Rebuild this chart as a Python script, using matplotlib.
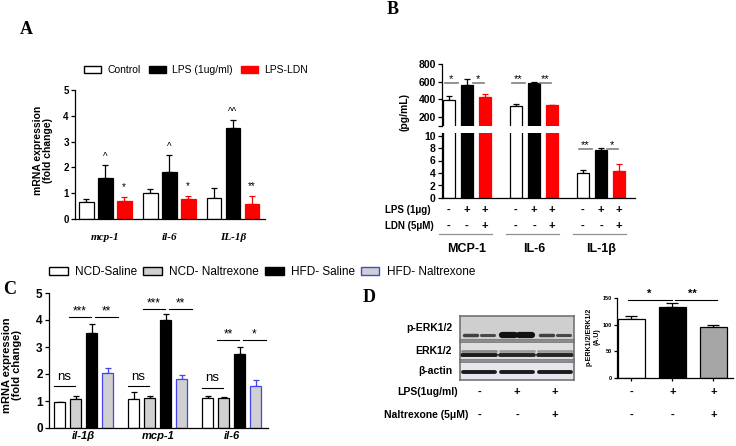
import matplotlib
matplotlib.use('Agg')
import matplotlib.pyplot as plt
import numpy as np
from matplotlib.patches import Patch
from matplotlib.transforms import blended_transform_factory

plt.rcParams['font.family'] = ['Liberation Sans', 'DejaVu Sans']
plt.rcParams['font.weight'] = 'bold'
plt.rcParams['axes.linewidth'] = 0.9

W, H = 736, 446

# ---- panel A: mRNA after LPS / LPS-LDN
a_genes = ['mcp-1', 'il-6', 'IL-1β']
a_series = ['Control', 'LPS (1ug/ml)', 'LPS-LDN']
a_ctrl = [0.66, 1.02, 0.83]
a_lps = [1.58, 1.83, 3.51]
a_ldn = [0.71, 0.76, 0.57]
a_ctrl_err = [0.10, 0.16, 0.36]
a_lps_err = [0.51, 0.65, 0.33]
a_ldn_err = [0.13, 0.13, 0.32]
a_lps_marks = ['^', '^', '^^']
a_ldn_marks = ['*', '*', '**']

# ---- panel B: cytokines (pg/mL)
b_cytokines = ['MCP-1', 'IL-6', 'IL-1β']
b_ctrl = [395, 330, 3.95]
b_lps = [565, 585, 7.68]
b_ldn = [430, 335, 4.27]
b_ctrl_err = [42, 22, 0.55]
b_lps_err = [67, 15, 0.32]
b_ldn_err = [34, 5, 1.19]
b_sig_left = ['*', '**', '**']
b_sig_right = ['*', '**', '*']
b_sig_level = [590, 590, 7.9]
b_lps_row = ['-', '+', '+']
b_ldn_row = ['-', '-', '+']

# ---- panel C: mouse tissue mRNA
c_genes = ['il-1β', 'mcp-1', 'il-6']
c_series = ['NCD-Saline', 'NCD- Naltrexone', 'HFD- Saline', 'HFD- Naltrexone']
c_ncd_sal = [0.95, 1.07, 1.12]
c_ncd_nal = [1.08, 1.11, 1.12]
c_hfd_sal = [3.53, 4.00, 2.75]
c_hfd_nal = [2.05, 1.83, 1.57]
c_ncd_sal_err = [0.03, 0.26, 0.05]
c_ncd_nal_err = [0.10, 0.07, 0.03]
c_hfd_sal_err = [0.31, 0.21, 0.26]
c_hfd_nal_err = [0.19, 0.15, 0.21]
c_ns_level = [1.56, 1.56, 1.50]
c_sig_level = [4.10, 4.40, 3.26]
c_sig_left = ['***', '***', '**']
c_sig_right = ['**', '**', '*']

# ---- panel D: western blot + quantification
d_blot_rows = ['p-ERK1/2', 'ERK1/2', 'β-actin']
d_perk_band = [0.75, 0.7, 1.0, 1.0, 0.75, 0.7]   # two sub-bands per lane
d_erk_upper = [0.45, 0.35, 0.35]
d_erk_lower = [0.95, 0.9, 0.9]
d_actin_band = [0.95, 0.95, 0.95]
d_ratio = [111, 133, 96]
d_ratio_err = [6, 8, 4]
d_lps_row = ['-', '+', '+']
d_nal_row = ['-', '-', '+']
d_sig = ['*', '**']


def box(x0, y0, x1, y1):
    return [x0 / W, 1 - y1 / H, (x1 - x0) / W, (y1 - y0) / H]


def fx(x):
    return x / W


def fy(y):
    return 1 - y / H


def bars(ax, xs, vals, errs, face, edge, ecolor, width, cap=2.5):
    ax.bar(xs, vals, width, color=face, edgecolor=edge, linewidth=0.9, zorder=2)
    ax.errorbar(xs, vals, yerr=[np.zeros(len(vals)), errs], fmt='none',
                ecolor=ecolor, elinewidth=0.9, capsize=cap, capthick=0.9, zorder=1)


def style(ax, size):
    ax.spines['top'].set_visible(False)
    ax.spines['right'].set_visible(False)
    ax.tick_params(labelsize=size, length=3, width=0.9, pad=1.5)
    for lab in ax.get_yticklabels():
        lab.set_fontweight('bold')


fig = plt.figure(figsize=(W / 100, H / 100), dpi=100)

# ================= A =================
axA = fig.add_axes(box(75, 90, 265, 219))
x = np.arange(len(a_genes))
bw, off = 0.234, 0.297
bars(axA, x - off, a_ctrl, a_ctrl_err, 'white', 'black', 'black', bw)
bars(axA, x, a_lps, a_lps_err, 'black', 'black', 'black', bw)
bars(axA, x + off, a_ldn, a_ldn_err, 'red', 'red', 'red', bw)
for i in range(len(a_genes)):
    axA.text(x[i], a_lps[i] + a_lps_err[i] + 0.12, a_lps_marks[i], ha='center',
             va='bottom', fontsize=7, fontweight='normal')
    axA.text(x[i] + off, a_ldn[i] + a_ldn_err[i] + 0.2, a_ldn_marks[i], ha='center',
             va='bottom', fontsize=7, fontweight='normal')
axA.set_xlim(-0.47, 2.5)
axA.set_ylim(0, 5)
axA.set_yticks(range(6))
axA.set_xticks([])
style(axA, 7)
trA = blended_transform_factory(axA.transData, fig.transFigure)
for i, g in enumerate(a_genes):
    axA.text(x[i], fy(238), g, transform=trA, ha='center', va='center',
             family='Liberation Serif', style='italic', fontweight='bold', fontsize=8)
fig.text(fx(43), fy(150), 'mRNA expression\n(fold change)', rotation=90,
         ha='center', va='center', fontsize=7.5, linespacing=1.1)
fig.legend(handles=[Patch(facecolor='white', edgecolor='black', label=a_series[0]),
                    Patch(facecolor='black', edgecolor='black', label=a_series[1]),
                    Patch(facecolor='red', edgecolor='red', label=a_series[2])],
           loc='center', bbox_to_anchor=(fx(196), fy(70)), ncol=3, frameon=False,
           prop={'weight': 'normal', 'size': 7.5}, handlelength=1.6, handleheight=0.7,
           columnspacing=0.8, handletextpad=0.6, borderpad=0)
fig.text(fx(20), fy(30), 'A', family='Liberation Serif', fontsize=13, va='center')

# ================= B =================
axBt = fig.add_axes(box(442, 64, 635, 126))
axBb = fig.add_axes(box(442, 133, 635, 198))
xb = np.arange(len(b_cytokines))
bw, off = 0.18, 0.27
for ax in (axBt, axBb):
    bars(ax, xb - off, b_ctrl, b_ctrl_err, 'white', 'black', 'black', bw)
    bars(ax, xb, b_lps, b_lps_err, 'black', 'black', 'black', bw)
    bars(ax, xb + off, b_ldn, b_ldn_err, 'red', 'red', 'red', bw)
    ax.set_xlim(-0.373, 2.507)
    ax.set_xticks([])
    style(ax, 7.5)
axBt.set_ylim(100, 800)
axBt.set_yticks([100, 200, 400, 600, 800])
axBt.set_yticklabels(['', '200', '400', '600', '800'], fontweight='bold')
axBt.spines['bottom'].set_visible(False)
axBb.set_ylim(0, 10.4)
axBb.set_yticks(range(0, 11, 2))
axBb.set_yticklabels([str(v) for v in range(0, 11, 2)], fontweight='bold')
for i in range(len(b_cytokines)):
    ax = axBt if b_sig_level[i] > 100 else axBb
    lvl = b_sig_level[i]
    ax.plot([xb[i] - 0.33, xb[i] - 0.13], [lvl, lvl], color='#808080', lw=1.2, clip_on=False)
    ax.plot([xb[i] + 0.09, xb[i] + 0.26], [lvl, lvl], color='#808080', lw=1.2, clip_on=False)
    ax.annotate(b_sig_left[i], (xb[i] - 0.24, lvl), xytext=(0, -1), textcoords='offset points',
                ha='center', va='bottom', fontsize=8, fontweight='normal')
    ax.annotate(b_sig_right[i], (xb[i] + 0.17, lvl), xytext=(0, -1), textcoords='offset points',
                ha='center', va='bottom', fontsize=8, fontweight='normal')
fig.text(fx(404), fy(112), '(pg/mL)', rotation=90, ha='center', va='center', fontsize=7.5)
trB = blended_transform_factory(axBb.transData, fig.transFigure)
fig.text(fx(385), fy(210), 'LPS (1μg)', ha='left', va='center', fontsize=7)
fig.text(fx(385), fy(226), 'LDN (5μM)', ha='left', va='center', fontsize=7)
for i in range(len(b_cytokines)):
    for j, dx in enumerate([-off, 0, off]):
        axBb.text(xb[i] + dx, fy(210), b_lps_row[j], transform=trB, ha='center',
                  va='center', fontsize=8)
        axBb.text(xb[i] + dx, fy(226), b_ldn_row[j], transform=trB, ha='center',
                  va='center', fontsize=8)
    axBb.plot([xb[i] - 0.42, xb[i] + 0.38], [fy(234), fy(234)], transform=trB,
              color='#909090', lw=0.9, clip_on=False)
    axBb.text(xb[i], fy(249), b_cytokines[i], transform=trB, ha='center',
              va='center', fontsize=9)
fig.text(fx(387), fy(10), 'B', family='Liberation Serif', fontsize=13, va='center')

# ================= C =================
axC = fig.add_axes(box(49, 293, 268, 428))
xc = np.arange(len(c_genes))
bw, step = 0.148, 0.218
grey = '#d0d0d0'
bars(axC, xc - 1.5 * step, c_ncd_sal, c_ncd_sal_err, 'white', 'black', 'black', bw, 2)
bars(axC, xc - 0.5 * step, c_ncd_nal, c_ncd_nal_err, grey, 'black', 'black', bw, 2)
bars(axC, xc + 0.5 * step, c_hfd_sal, c_hfd_sal_err, 'black', 'black', 'black', bw, 2)
bars(axC, xc + 1.5 * step, c_hfd_nal, c_hfd_nal_err, grey, '#4444ee', '#4444ee', bw, 2)
for i in range(len(c_genes)):
    axC.plot([xc[i] - 0.40, xc[i] - 0.12], [c_ns_level[i]] * 2, color='black', lw=0.8)
    axC.text(xc[i] - 0.26, c_ns_level[i] + 0.12, 'ns', ha='center', va='bottom',
             fontsize=9.5, fontweight='normal')
    axC.plot([xc[i] - 0.20, xc[i] + 0.10], [c_sig_level[i]] * 2, color='black', lw=0.8)
    axC.plot([xc[i] + 0.15, xc[i] + 0.46], [c_sig_level[i]] * 2, color='black', lw=0.8)
    axC.annotate(c_sig_left[i], (xc[i] - 0.05, c_sig_level[i]), xytext=(0, 0),
                 textcoords='offset points', ha='center', va='bottom', fontsize=8.5,
                 fontweight='normal')
    axC.annotate(c_sig_right[i], (xc[i] + 0.30, c_sig_level[i]), xytext=(0, 0),
                 textcoords='offset points', ha='center', va='bottom', fontsize=8.5,
                 fontweight='normal')
axC.set_xlim(-0.47, 2.49)
axC.set_ylim(0, 5)
axC.set_yticks(range(6))
axC.set_xticks(xc)
axC.set_xticklabels(c_genes, style='italic', fontweight='bold')
style(axC, 8.5)
axC.tick_params(axis='x', length=0, pad=2, labelsize=8)
fig.text(fx(12), fy(365), 'mRNA expression\n(fold change)', rotation=90,
         ha='center', va='center', fontsize=8, linespacing=1.1)
fig.legend(handles=[Patch(facecolor='white', edgecolor='black', label=c_series[0]),
                    Patch(facecolor=grey, edgecolor='black', label=c_series[1]),
                    Patch(facecolor='black', edgecolor='black', label=c_series[2]),
                    Patch(facecolor=grey, edgecolor='#4444ee', label=c_series[3])],
           loc='center', bbox_to_anchor=(fx(262), fy(272)), ncol=4, frameon=False,
           prop={'weight': 'normal', 'size': 8.5}, handlelength=1.6, handleheight=0.7,
           columnspacing=0.5, handletextpad=0.6, borderpad=0)
fig.text(fx(3), fy(290), 'C', family='Liberation Serif', fontsize=13, va='center')

# ================= D =================
strips = [(316, 340, '#cfcfcf'), (342, 360, '#dedede'), (362, 380, '#e6e6ee')]
blot_axes = []
for (y0, y1, bg), name in zip(strips, d_blot_rows):
    ax = fig.add_axes(box(460, y0, 574, y1))
    ax.set_facecolor(bg)
    ax.set_xlim(0, 3)
    ax.set_ylim(0, 1)
    ax.set_xticks([])
    ax.set_yticks([])
    for s in ax.spines.values():
        s.set_color('#6a6a6a')
        s.set_linewidth(1.1)
    fig.text(fx(452), fy((y0 + y1) / 2), name, ha='right', va='center', fontsize=7.5)
    blot_axes.append(ax)
lanes = np.arange(3) + 0.5
sub = np.repeat(lanes, 2) + np.tile([-0.22, 0.22], 3)
for sx, v in zip(sub, d_perk_band):
    blot_axes[0].plot([sx - 0.17, sx + 0.17], [0.22, 0.22], color='#111111',
                      alpha=v, lw=1.0 + 3.5 * v ** 3, solid_capstyle='round')
for lx, v in zip(lanes, d_erk_upper):
    blot_axes[1].plot([lx - 0.44, lx + 0.44], [0.5, 0.5], color='#222222',
                      alpha=v, lw=2.0, solid_capstyle='round')
for lx, v in zip(lanes, d_erk_lower):
    blot_axes[1].plot([lx - 0.44, lx + 0.44], [0.28, 0.28], color='#111111',
                      alpha=v, lw=2.8, solid_capstyle='round')
for lx, v in zip(lanes, d_actin_band):
    blot_axes[2].plot([lx - 0.41, lx + 0.41], [0.45, 0.45], color='#111111',
                      alpha=v, lw=2.8, solid_capstyle='round')

fig.text(fx(458), fy(392), 'LPS(1ug/ml)', ha='right', va='center', fontsize=7.5)
fig.text(fx(468), fy(415), 'Naltrexone (5μM)', ha='right', va='center', fontsize=7.5)
trL = blended_transform_factory(blot_axes[2].transData, fig.transFigure)
for lx, a, b in zip(lanes, d_lps_row, d_nal_row):
    blot_axes[2].text(lx, fy(392), a, transform=trL, ha='center', va='center', fontsize=8)
    blot_axes[2].text(lx, fy(415), b, transform=trL, ha='center', va='center', fontsize=8)

axD = fig.add_axes(box(617, 298, 733, 378))
xd = np.arange(len(d_ratio))
axD.bar(xd, d_ratio, 0.66, color=['white', 'black', '#a6a6a6'], edgecolor='black',
        linewidth=0.9, zorder=2)
axD.errorbar(xd, d_ratio, yerr=[np.zeros(3), d_ratio_err], fmt='none', ecolor='black',
             elinewidth=0.9, capsize=4, capthick=0.9, zorder=1)
axD.set_xlim(-0.35, 2.48)
axD.set_ylim(0, 150)
axD.set_yticks([0, 50, 100, 150])
axD.set_xticks(xd)
axD.set_xticklabels([])
style(axD, 4)
axD.tick_params(length=2)
axD.plot([-0.09, 0.98], [147, 147], color='black', lw=0.8, clip_on=False)
axD.plot([1.06, 2.08], [147, 147], color='black', lw=0.8, clip_on=False)
axD.text(0.43, 149, d_sig[0], ha='center', va='bottom', fontsize=8)
axD.text(1.48, 149, d_sig[1], ha='center', va='bottom', fontsize=8)
fig.text(fx(593), fy(337), 'p-ERK1/2/ERK1/2\n(A.U)', rotation=90, ha='center',
         va='center', fontsize=5, linespacing=1.1)
trD = blended_transform_factory(axD.transData, fig.transFigure)
for i in range(len(d_ratio)):
    axD.text(xd[i], fy(392), d_lps_row[i], transform=trD, ha='center', va='center', fontsize=8)
    axD.text(xd[i], fy(415), d_nal_row[i], transform=trD, ha='center', va='center', fontsize=8)
fig.text(fx(363), fy(298), 'D', family='Liberation Serif', fontsize=13, va='center')

fig.savefig('out.png', dpi=100)
